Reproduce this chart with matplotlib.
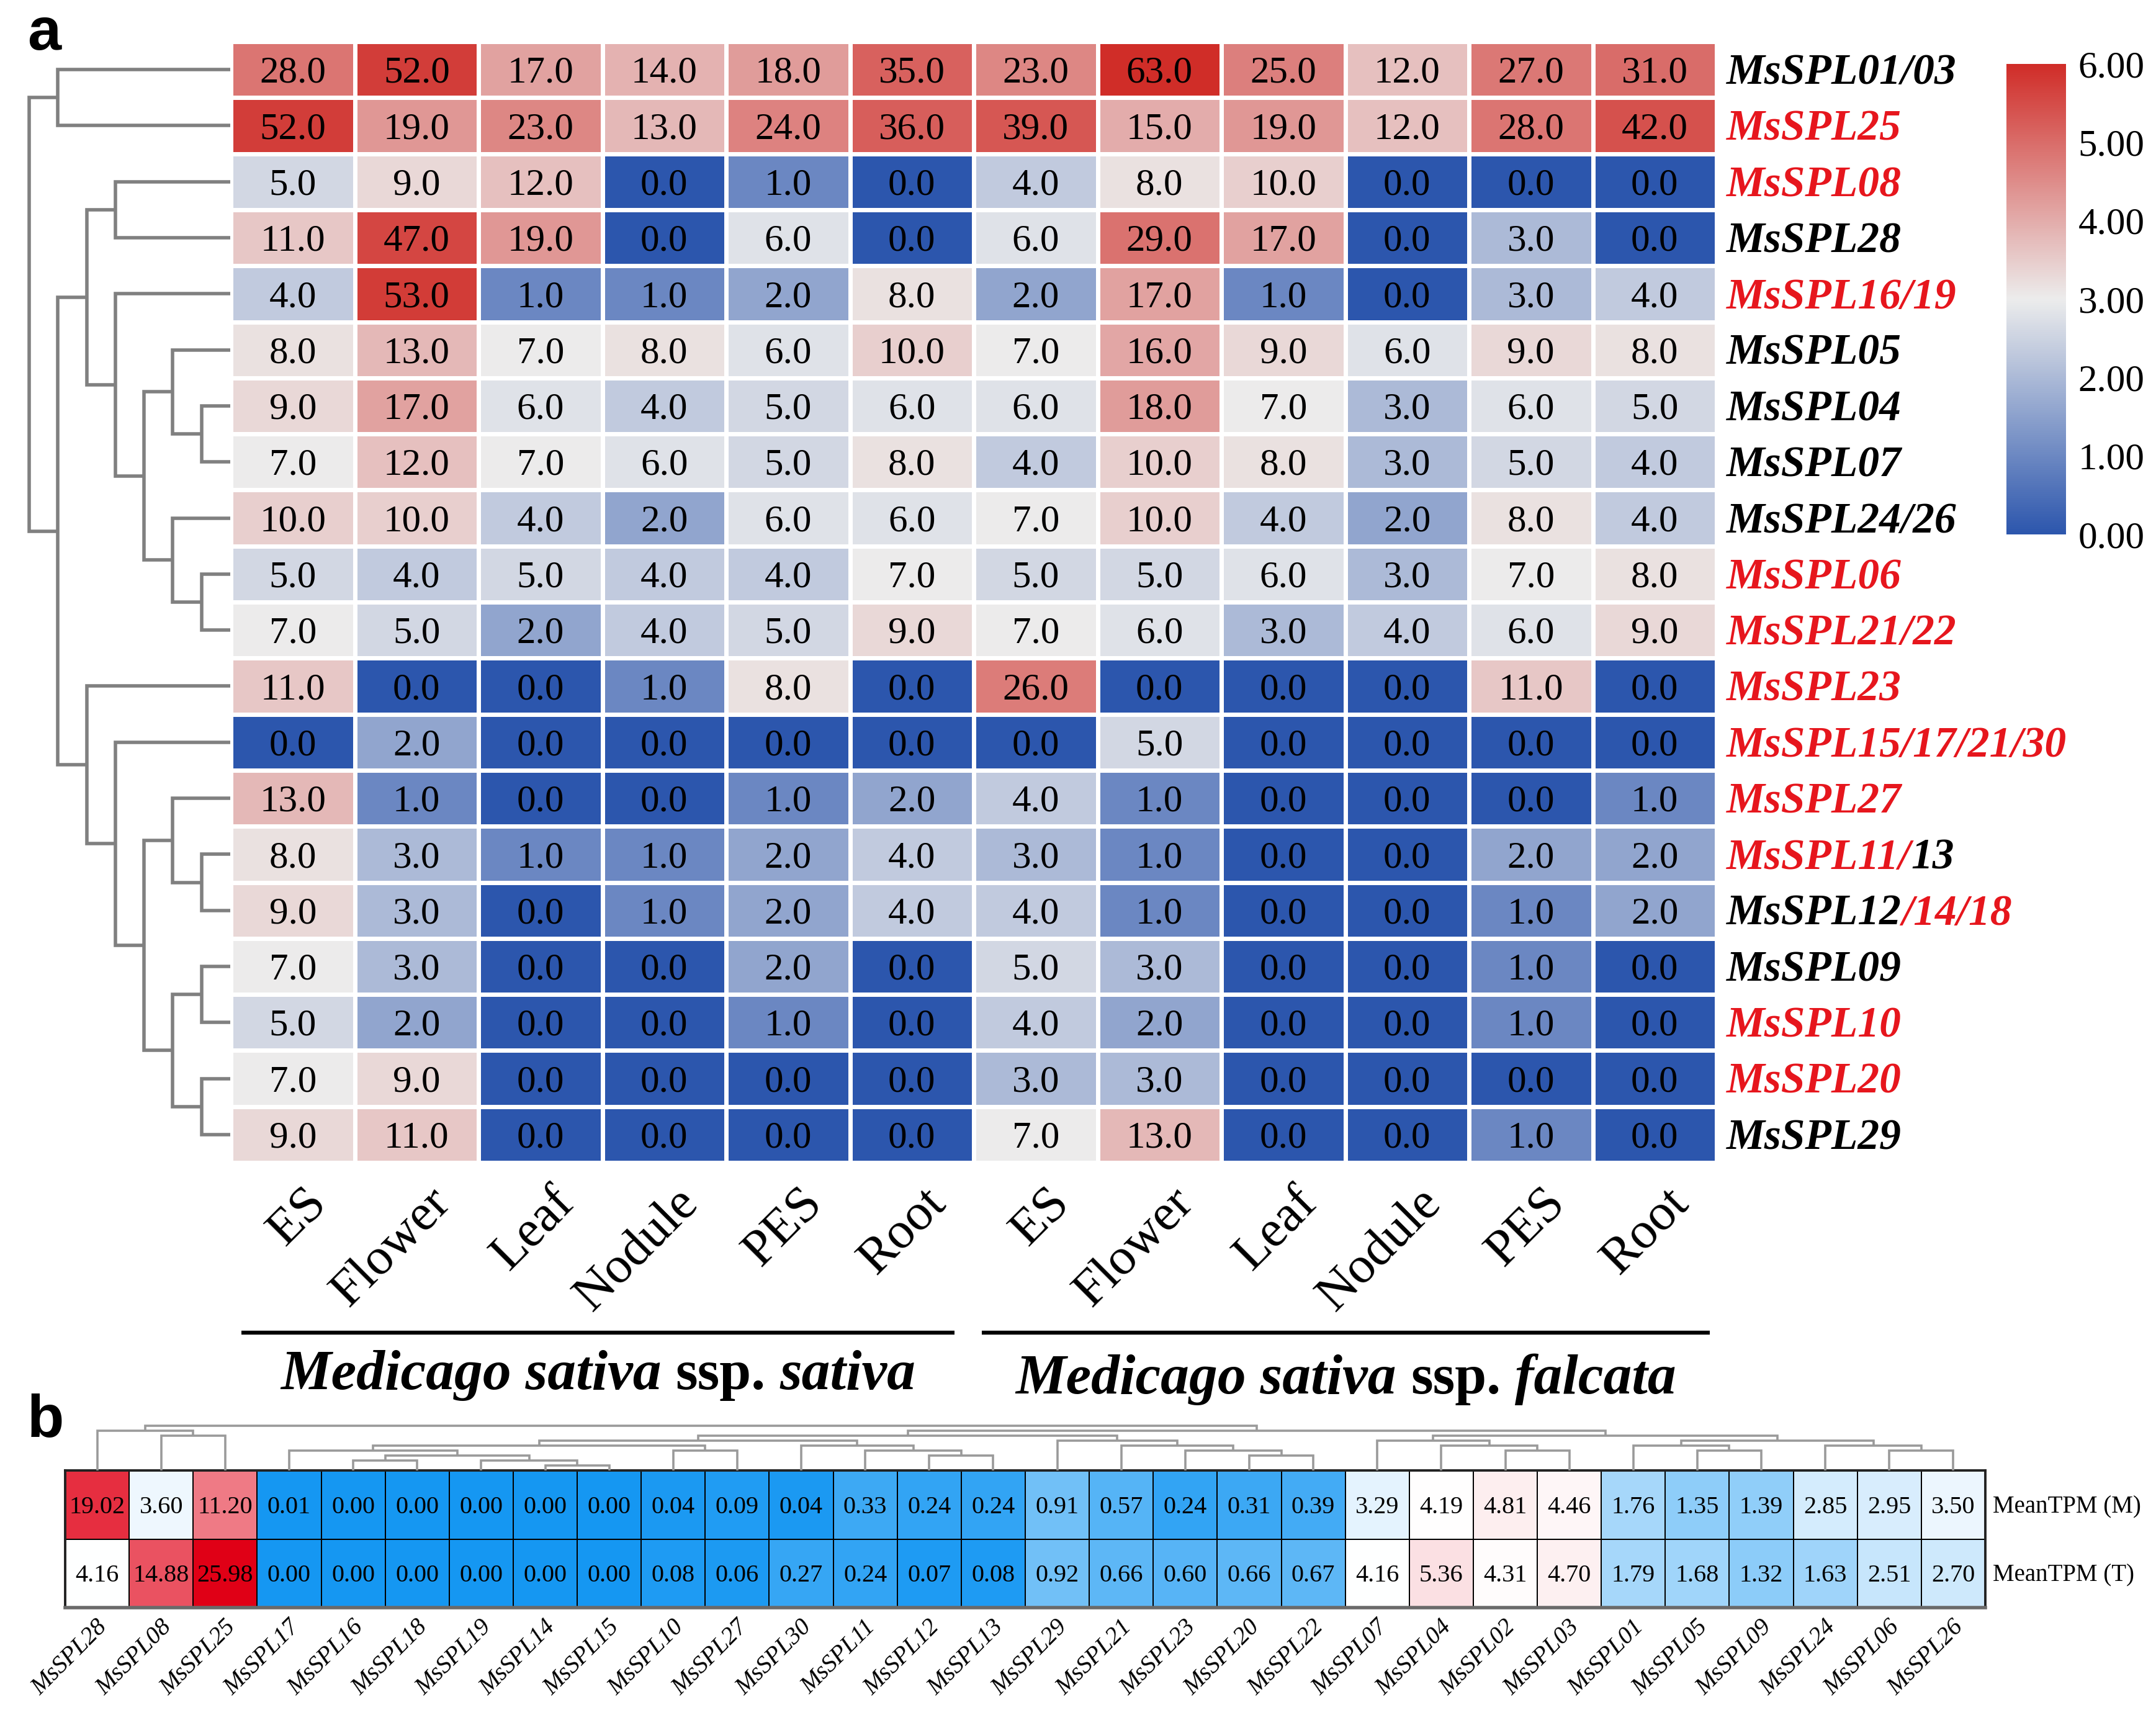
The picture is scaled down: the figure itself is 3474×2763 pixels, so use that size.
import numpy as np
import matplotlib
matplotlib.use("Agg")
import matplotlib.pyplot as plt
from matplotlib.colors import LinearSegmentedColormap, Normalize, TwoSlopeNorm
from matplotlib.cm import ScalarMappable
from matplotlib.lines import Line2D
from matplotlib.transforms import offset_copy

# ------------------------------------------------------------------ data (panel a)
tissues = ["ES", "Flower", "Leaf", "Nodule", "PES", "Root"]
col_labels_a = tissues + tissues
group_labels_a = [("Medicago sativa", "ssp.", "sativa"),
                  ("Medicago sativa", "ssp.", "falcata")]

# row labels, split in coloured pieces: 'k' black, 'r' red
row_label_pieces_a = [
    [("MsSPL01/03", "k")],
    [("MsSPL25", "r")],
    [("MsSPL08", "r")],
    [("MsSPL28", "k")],
    [("MsSPL16/19", "r")],
    [("MsSPL05", "k")],
    [("MsSPL04", "k")],
    [("MsSPL07", "k")],
    [("MsSPL24/26", "k")],
    [("MsSPL06", "r")],
    [("MsSPL21/22", "r")],
    [("MsSPL23", "r")],
    [("MsSPL15/17/21/30", "r")],
    [("MsSPL27", "r")],
    [("MsSPL11/", "r"), ("13", "k")],
    [("MsSPL12", "k"), ("/14/18", "r")],
    [("MsSPL09", "k")],
    [("MsSPL10", "r")],
    [("MsSPL20", "r")],
    [("MsSPL29", "k")],
]

tpm_a = [
    [28, 52, 17, 14, 18, 35, 23, 63, 25, 12, 27, 31],
    [52, 19, 23, 13, 24, 36, 39, 15, 19, 12, 28, 42],
    [5, 9, 12, 0, 1, 0, 4, 8, 10, 0, 0, 0],
    [11, 47, 19, 0, 6, 0, 6, 29, 17, 0, 3, 0],
    [4, 53, 1, 1, 2, 8, 2, 17, 1, 0, 3, 4],
    [8, 13, 7, 8, 6, 10, 7, 16, 9, 6, 9, 8],
    [9, 17, 6, 4, 5, 6, 6, 18, 7, 3, 6, 5],
    [7, 12, 7, 6, 5, 8, 4, 10, 8, 3, 5, 4],
    [10, 10, 4, 2, 6, 6, 7, 10, 4, 2, 8, 4],
    [5, 4, 5, 4, 4, 7, 5, 5, 6, 3, 7, 8],
    [7, 5, 2, 4, 5, 9, 7, 6, 3, 4, 6, 9],
    [11, 0, 0, 1, 8, 0, 26, 0, 0, 0, 11, 0],
    [0, 2, 0, 0, 0, 0, 0, 5, 0, 0, 0, 0],
    [13, 1, 0, 0, 1, 2, 4, 1, 0, 0, 0, 1],
    [8, 3, 1, 1, 2, 4, 3, 1, 0, 0, 2, 2],
    [9, 3, 0, 1, 2, 4, 4, 1, 0, 0, 1, 2],
    [7, 3, 0, 0, 2, 0, 5, 3, 0, 0, 1, 0],
    [5, 2, 0, 0, 1, 0, 4, 2, 0, 0, 1, 0],
    [7, 9, 0, 0, 0, 0, 3, 3, 0, 0, 0, 0],
    [9, 11, 0, 0, 0, 0, 7, 13, 0, 0, 1, 0],
]

# dendrogram merges (left id, right id, level); leaves 0..19 in display order
linkage_a = [
    (6, 7, 1), (5, 20, 2), (9, 10, 1), (8, 22, 2), (21, 23, 3),
    (4, 24, 4), (2, 3, 4), (26, 25, 5), (14, 15, 1), (13, 28, 2),
    (16, 17, 1), (18, 19, 1), (30, 31, 2), (29, 32, 3), (12, 33, 4),
    (11, 34, 5), (27, 35, 6), (0, 1, 6), (37, 36, 7),
]
cbar_ticks_a = [0, 1, 2, 3, 4, 5, 6]

# ------------------------------------------------------------------ data (panel b)
genes_b = ["MsSPL28", "MsSPL08", "MsSPL25", "MsSPL17", "MsSPL16", "MsSPL18",
           "MsSPL19", "MsSPL14", "MsSPL15", "MsSPL10", "MsSPL27", "MsSPL30",
           "MsSPL11", "MsSPL12", "MsSPL13", "MsSPL29", "MsSPL21", "MsSPL23",
           "MsSPL20", "MsSPL22", "MsSPL07", "MsSPL04", "MsSPL02", "MsSPL03",
           "MsSPL01", "MsSPL05", "MsSPL09", "MsSPL24", "MsSPL06", "MsSPL26"]
mean_tpm_m = [19.02, 3.60, 11.20, 0.01, 0.00, 0.00, 0.00, 0.00, 0.00, 0.04,
              0.09, 0.04, 0.33, 0.24, 0.24, 0.91, 0.57, 0.24, 0.31, 0.39,
              3.29, 4.19, 4.81, 4.46, 1.76, 1.35, 1.39, 2.85, 2.95, 3.50]
mean_tpm_t = [4.16, 14.88, 25.98, 0.00, 0.00, 0.00, 0.00, 0.00, 0.00, 0.08,
              0.06, 0.27, 0.24, 0.07, 0.08, 0.92, 0.66, 0.60, 0.66, 0.67,
              4.16, 5.36, 4.31, 4.70, 1.79, 1.68, 1.32, 1.63, 2.51, 2.70]
row_labels_b = ["MeanTPM (M)", "MeanTPM (T)"]
white_point_b = 4.18

linkage_b = [
    (1, 2, 7), (0, 30, 8), (4, 5, 2), (7, 8, 1), (6, 33, 2), (32, 34, 3),
    (3, 35, 4), (9, 10, 4), (36, 37, 5), (13, 14, 3), (12, 39, 4),
    (11, 40, 5), (38, 41, 6), (18, 19, 3), (17, 43, 4), (16, 44, 5),
    (15, 45, 6), (42, 46, 7), (22, 23, 4), (21, 48, 5), (20, 49, 6),
    (25, 26, 4), (24, 51, 5), (28, 29, 4), (27, 53, 5), (52, 54, 6),
    (50, 55, 7), (47, 56, 8), (31, 57, 9),
]

# ------------------------------------------------------------------ figure
W, H = 3474, 2763
DPI = 200
fig = plt.figure(figsize=(W / DPI, H / DPI), dpi=DPI)
fig.patch.set_facecolor("white")
SERIF = "Liberation Serif"
RED = "#e6161d"
COLORS = {"k": "black", "r": RED}


def rect(x0, y0, x1, y1):
    return [x0 / W, 1 - y1 / H, (x1 - x0) / W, (y1 - y0) / H]


def fx(px):
    return px / W


def fy(py):
    return 1 - py / H


def em_px(fs):
    return fs * DPI / 72.0


def draw_dendro(ax, linkage, n, orient, color, lw):
    pos = {i: i + 0.5 for i in range(n)}
    hgt = {i: 0.0 for i in range(n)}
    for k, (a, b, h) in enumerate(linkage):
        node = n + k
        pa, pb = pos[a], pos[b]
        h1, h2 = hgt[a], hgt[b]
        if orient == "left":
            ax.plot([h1, h, h, h2], [pa, pa, pb, pb], color=color, lw=lw,
                    solid_capstyle="butt", solid_joinstyle="miter", clip_on=False)
        else:
            ax.plot([pa, pa, pb, pb], [h1, h, h, h2], color=color, lw=lw,
                    solid_capstyle="butt", solid_joinstyle="miter", clip_on=False)
        pos[node] = (pa + pb) / 2
        hgt[node] = h


renderer = fig.canvas.get_renderer()


def rich_text(x_px, y_px, pieces, align="left", gap=0.0):
    """pieces: list of (text, kwargs). Baseline at y_px."""
    texts, widths = [], []
    for s, kw in pieces:
        t = fig.text(0, fy(y_px), s, ha="left", va="baseline", **kw)
        texts.append(t)
        widths.append(t.get_window_extent(renderer=renderer).width)
    total = sum(widths) + gap * (len(pieces) - 1)
    x = x_px - total / 2 if align == "center" else x_px
    for t, w in zip(texts, widths):
        t.set_x(fx(x))
        x += w + gap
    return texts


# ------------------------------------------------------------------ panel a
n_rows, n_cols = len(tpm_a), len(tpm_a[0])
HX0, HY0, HX1, HY1 = 372, 67, 2766, 1873
cmap_a = LinearSegmentedColormap.from_list("a", ["#2c56ad", "#ececec", "#d02d28"])
norm_a = Normalize(0, 6)

vals_a = np.array(tpm_a, dtype=float)
ax_a = fig.add_axes(rect(HX0, HY0, HX1, HY1))
ax_a.pcolormesh(np.log2(vals_a + 1), cmap=cmap_a, norm=norm_a,
                edgecolors="white", linewidth=1.9)
ax_a.set_xlim(0, n_cols)
ax_a.set_ylim(n_rows, 0)
ax_a.axis("off")
fs_val_a = 22
tr_a = offset_copy(ax_a.transData, fig=fig, y=-0.338 * fs_val_a, units="points")
for i in range(n_rows):
    for j in range(n_cols):
        ax_a.text(j + 0.5, i + 0.5, f"{vals_a[i, j]:.1f}", ha="center",
                  va="baseline", fontsize=fs_val_a, family=SERIF,
                  transform=tr_a)

# row dendrogram
ax_da = fig.add_axes(rect(47, HY0, HX0 - 1, HY1))
draw_dendro(ax_da, linkage_a, n_rows, "left", "#808080", 2.0)
ax_da.set_xlim(7, 0)
ax_da.set_ylim(n_rows, 0)
ax_da.axis("off")

# row labels
cell_h = (HY1 - HY0) / n_rows
cell_w = (HX1 - HX0) / n_cols
fs_row_a = 25
for i, pieces in enumerate(row_label_pieces_a):
    yb = HY0 + (i + 0.5) * cell_h + 0.335 * em_px(fs_row_a)
    rich_text(2782, yb, [(s, dict(color=COLORS[c], fontsize=fs_row_a, family=SERIF,
                                  style="italic", weight="bold")) for s, c in pieces])

# column labels
for j, lab in enumerate(col_labels_a):
    xc = HX0 + (j + 0.5) * cell_w
    fig.text(fx(xc + 70), fy(1900), lab, rotation=45, ha="right", va="top",
             fontsize=30, family=SERIF)

# group lines and labels
for (x0, x1) in [(389, 1538), (1582, 2755)]:
    fig.add_artist(Line2D([fx(x0), fx(x1)], [fy(2147), fy(2147)], color="black",
                          lw=2.3, solid_capstyle="butt"))
fs_grp = 33
space = em_px(fs_grp) * 0.25
for (x0, x1), yb, (g1, g2, g3) in zip([(389, 1538), (1582, 2755)], [2238, 2245],
                                      group_labels_a):
    bi = dict(fontsize=fs_grp, family=SERIF, style="italic", weight="bold")
    bo = dict(fontsize=fs_grp, family=SERIF, weight="bold")
    rich_text((x0 + x1) / 2, yb, [(g1, bi), (g2, bo), (g3, bi)], align="center",
              gap=space)

# colorbar
cax = fig.add_axes(rect(3233, 103, 3329, 861))
cb = fig.colorbar(ScalarMappable(norm=norm_a, cmap=cmap_a), cax=cax,
                  ticks=cbar_ticks_a)
cb.outline.set_visible(False)
cb.ax.tick_params(length=0, pad=7)
cb.ax.set_yticklabels([f"{t:.2f}" for t in cbar_ticks_a], fontsize=22, family=SERIF)

# panel letters
fig.text(fx(44), fy(80), "a", fontsize=35, weight="bold", family="Liberation Sans",
         ha="left", va="baseline")
fig.text(fx(44), fy(2315), "b", fontsize=35, weight="bold", family="Liberation Sans",
         ha="left", va="baseline")

# ------------------------------------------------------------------ panel b
BX0, BY0, BX1, BY1 = 105, 2369, 3199, 2590
n_b = len(genes_b)
vals_b = np.array([mean_tpm_m, mean_tpm_t], dtype=float)
zb = np.log2(vals_b + 1)
norm_b = TwoSlopeNorm(vmin=0, vcenter=np.log2(white_point_b + 1), vmax=zb.max())
cmap_b = LinearSegmentedColormap.from_list("b", ["#1597f2", "#ffffff", "#e00016"])

ax_b = fig.add_axes(rect(BX0, BY0, BX1, BY1))
ax_b.pcolormesh(zb, cmap=cmap_b, norm=norm_b, edgecolors="black", linewidth=0.7)
ax_b.set_xlim(0, n_b)
ax_b.set_ylim(2, 0)
ax_b.set_xticks([])
ax_b.set_yticks([])
for side, sp in ax_b.spines.items():
    sp.set_linewidth(1.4)
    sp.set_color("#222222")
ax_b.spines["bottom"].set_color("#6a6a6a")
ax_b.spines["bottom"].set_linewidth(2.0)
fs_val_b = 14.5
tr_b = offset_copy(ax_b.transData, fig=fig, y=-0.338 * fs_val_b, units="points")
for i in range(2):
    for j in range(n_b):
        ax_b.text(j + 0.5, i + 0.5, f"{vals_b[i, j]:.2f}", ha="center",
                  va="baseline", fontsize=fs_val_b, family=SERIF, transform=tr_b)

# column dendrogram
ax_db = fig.add_axes(rect(BX0, 2297, BX1, BY0))
draw_dendro(ax_db, linkage_b, n_b, "top", "#9a9a9a", 1.3)
ax_db.set_xlim(0, n_b)
ax_db.set_ylim(0, 9)
ax_db.axis("off")

# labels
cw_b = (BX1 - BX0) / n_b
ch_b = (BY1 - BY0) / 2
for j, g in enumerate(genes_b):
    xc = BX0 + (j + 0.5) * cw_b
    fig.text(fx(xc + 24), fy(2603), g, rotation=45, ha="right", va="top",
             fontsize=14.3, family=SERIF, style="italic")
for i, lab in enumerate(row_labels_b):
    yb = BY0 + (i + 0.5) * ch_b + 0.338 * em_px(14)
    fig.text(fx(3211), fy(yb), lab, ha="left", va="baseline", fontsize=14,
             family=SERIF)

fig.savefig("out.png", dpi=DPI, facecolor="white")
